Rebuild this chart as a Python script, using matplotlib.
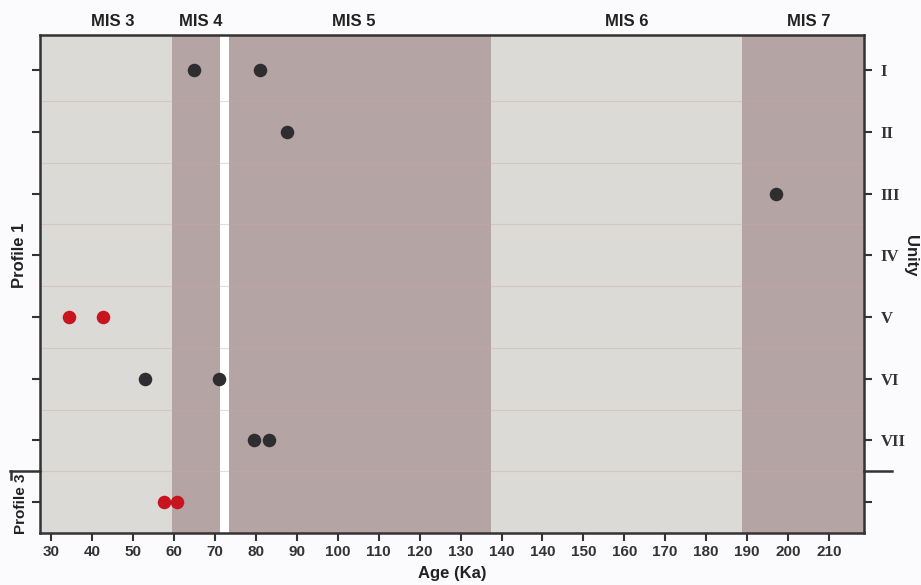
import matplotlib
matplotlib.use("Agg")
import matplotlib.pyplot as plt
import matplotlib.transforms as mtransforms
from matplotlib.lines import Line2D

# ---- data ----
units = ["I", "II", "III", "IV", "V", "VI", "VII", ""]
tick_positions = [30 + 10 * i for i in range(20)]
tick_labels = ["30", "40", "50", "60", "70", "80", "90", "100", "110", "120",
               "130", "140", "140", "150", "160", "170", "180", "190", "200", "210"]

# MIS bands (start, end, kind)
band_names = ["MIS 3", "MIS 4", "MIS 5", "MIS 6", "MIS 7"]
band_start = [27.2, 59.4, 73.4, 137.4, 198.9]
band_end = [59.4, 71.2, 137.4, 198.9, 228.6]
band_kind = ["cold", "warm", "warm", "cold", "warm"]
band_label_x = [45.1, 66.6, 104.0, 170.6, 215.2]

# dated samples: age (axis units), unit index
black_age = [64.9, 81.0, 87.5, 207.1, 52.9, 71.0, 79.5, 83.2]
black_unit = [0, 0, 1, 2, 5, 5, 6, 6]
red_age = [34.3, 42.6, 57.4, 60.6]
red_unit = [4, 4, 7, 7]

# ---- style ----
c_cold = "#dcdad6"
c_warm = "#b4a5a4"
c_black = "#2e2e31"
c_red = "#c8141e"
c_spine = "#333333"
narrow = ["Liberation Sans Narrow", "Liberation Sans", "DejaVu Sans"]

fig = plt.figure(figsize=(9.21, 5.85), dpi=100, facecolor="#fbfbfd")
ax = fig.add_axes([40 / 921, 1 - 533 / 585, (864 - 40) / 921, (533 - 35) / 585])
ax.set_facecolor("white")

xmin, xmax = 27.2, 228.6
ax.set_xlim(xmin, xmax)
ax.set_ylim(7.5, -0.57)

for s, e, k in zip(band_start, band_end, band_kind):
    ax.axvspan(s, e, color=c_cold if k == "cold" else c_warm, lw=0, zorder=0)

# faint separators between units
for i in range(len(units) - 1):
    ax.axhline(i + 0.5, color="#c9a9a9", alpha=0.4, lw=0.8, zorder=1)

ax.scatter(black_age, black_unit, s=95, color=c_black, zorder=3, lw=0)
ax.scatter(red_age, red_unit, s=95, color=c_red, zorder=3, lw=0)

for name, x in zip(band_names, band_label_x):
    ax.text(x, 1.012, name, transform=ax.get_xaxis_transform(), ha="center",
            va="bottom", fontsize=12, fontweight="bold", family=narrow, color="#222222")

ax.set_xticks(tick_positions)
ax.set_xticklabels(tick_labels, fontsize=11, fontweight="bold", family=narrow, color="#333333")
ax.set_yticks(range(len(units)))
ax.set_yticklabels(units, fontsize=12, fontweight="bold", family=["Liberation Serif", "DejaVu Serif"],
                   color="#333333")
ax.tick_params(axis="y", left=True, right=True, labelleft=False, labelright=True,
               length=6, width=1.5, color=c_spine, pad=6)
ax.tick_params(axis="x", length=6, width=1.5, color=c_spine, pad=3)

for sp in ax.spines.values():
    sp.set_color(c_spine)
    sp.set_linewidth(1.8)

ax.set_xlabel("Age (Ka)", fontsize=12, fontweight="bold", family=narrow, color="#222222", labelpad=5)

trans = mtransforms.blended_transform_factory(fig.transFigure, ax.transData)
ax.text(20 / 921, 3, "Profile 1", transform=trans, rotation=90, ha="center", va="center",
        fontsize=12, fontweight="bold", family=narrow, color="#222222")
ax.text(21 / 921, 7.02, "Profile 3", transform=trans, rotation=90, ha="center", va="center",
        fontsize=11, fontweight="bold", family=narrow, color="#222222")
ax.text(910 / 921, 3, "Unity", transform=trans, rotation=270, ha="center", va="center",
        fontsize=12, fontweight="bold", family=narrow, color="#222222")

for x0, x1 in [(10 / 921, 40 / 921), (864 / 921, 892 / 921)]:
    ax.add_line(Line2D([x0, x1], [6.5, 6.5], transform=trans, color=c_spine, lw=1.8, clip_on=False))
ax.add_line(Line2D([11 / 921, 11 / 921], [6.5, 6.62], transform=trans, color=c_spine, lw=1.8,
                   clip_on=False))

fig.savefig("out.png", dpi=100, facecolor=fig.get_facecolor())
